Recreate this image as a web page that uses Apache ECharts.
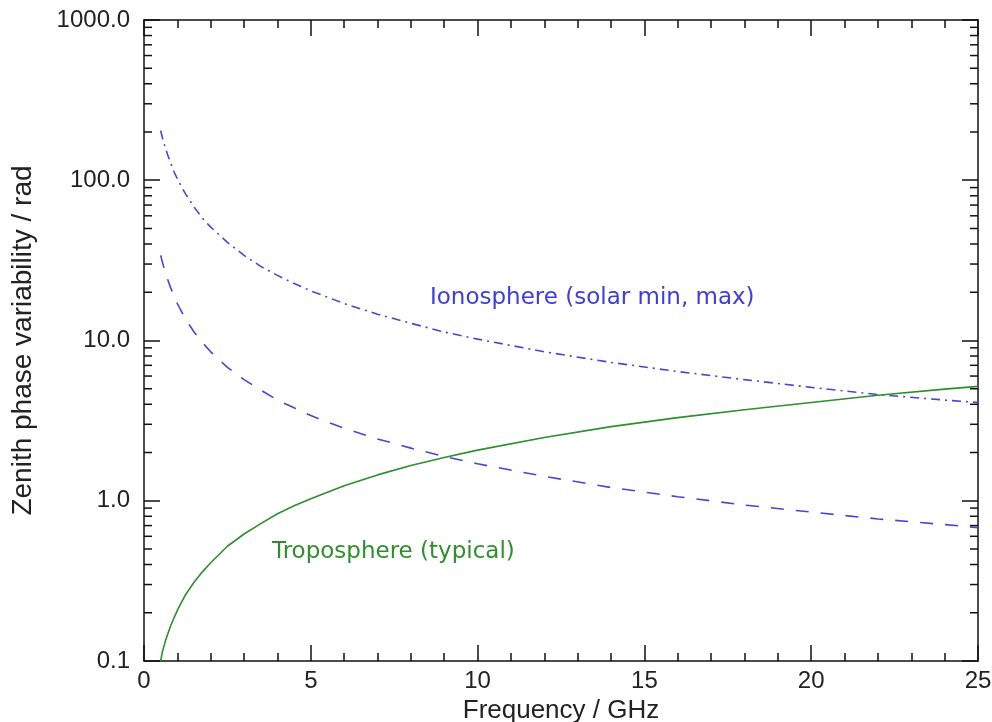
<!DOCTYPE html>
<html>
<head>
<meta charset="utf-8">
<script src="https://cdn.jsdelivr.net/npm/echarts@6/dist/echarts.min.js"></script>
<style>
  html, body { margin: 0; padding: 0; background: #fff; }
  #chart { width: 992px; height: 722px; }
</style>
</head>
<body>
<div id="chart"></div>
<script>
// frequency samples (GHz)
const freq = [0.5, 0.55, 0.6, 0.65, 0.7, 0.8, 0.9, 1, 1.1, 1.25, 1.5, 1.75, 2, 2.5, 3, 3.5, 4, 4.5, 5, 6, 7, 8, 9, 10, 12, 14, 16, 18, 20, 22, 24, 25]
// zenith phase variability (rad)
const ionoMax = [204, 185, 170, 157, 146, 128, 113, 102, 93, 82, 68, 58, 51, 41, 34, 29, 25.5, 22.7, 20.4, 17, 14.6, 12.8, 11.3, 10.2, 8.5, 7.3, 6.4, 5.7, 5.1, 4.6, 4.25, 4.1]
const ionoMin = [34, 30.9, 28.3, 26.2, 24.3, 21.3, 18.9, 17, 15.5, 13.6, 11.3, 9.7, 8.5, 6.8, 5.7, 4.9, 4.25, 3.8, 3.4, 2.83, 2.43, 2.13, 1.89, 1.7, 1.42, 1.21, 1.06, 0.94, 0.85, 0.77, 0.71, 0.68]
const tropo = [0.1, 0.114, 0.124, 0.135, 0.145, 0.166, 0.186, 0.207, 0.228, 0.26, 0.31, 0.36, 0.41, 0.52, 0.62, 0.72, 0.83, 0.93, 1.03, 1.24, 1.45, 1.66, 1.86, 2.07, 2.48, 2.9, 3.3, 3.7, 4.1, 4.55, 4.97, 5.17]
// log-axis minor tick positions
const yMinorTicks = [0.2, 0.3, 0.4, 0.5, 0.6, 0.7, 0.8, 0.9,
  2, 3, 4, 5, 6, 7, 8, 9,
  20, 30, 40, 50, 60, 70, 80, 90,
  200, 300, 400, 500, 600, 700, 800, 900]

const FONT = "'Liberation Sans', Arial, Helvetica, sans-serif"
const NOTE_FONT = "'DejaVu Sans', sans-serif"
const INK = '#222'
const BLUE = '#4646d8'
const GREEN = '#2f8f2f'

const pairs = (ys) => freq.map((x, i) => [x, ys[i]])

const chart = echarts.init(document.getElementById('chart'))

const xBase = {
  type: 'value',
  min: 0,
  max: 25,
  interval: 5,
  axisLine: { show: true, onZero: false, lineStyle: { color: '#111', width: 1.5 } },
  axisTick: { show: true, inside: true, length: 16, lineStyle: { color: '#111', width: 1.5 } },
  minorTick: { show: true, splitNumber: 5, length: 8, lineStyle: { color: '#111', width: 1.5 } },
  splitLine: { show: false },
  minorSplitLine: { show: false }
}

const yBase = {
  type: 'log',
  logBase: 10,
  min: 0.1,
  max: 1000,
  axisLine: { show: true, onZero: false, lineStyle: { color: '#111', width: 1.5 } },
  axisTick: { show: true, inside: true, length: 16, lineStyle: { color: '#111', width: 1.5 } },
  splitLine: { show: false }
}

chart.setOption({
  animation: false,
  backgroundColor: '#fff',
  textStyle: { fontFamily: FONT },
  grid: { left: 144, right: 14, top: 20, bottom: 61, containLabel: false, outerBoundsMode: 'none' },
  xAxis: [
    {
      ...xBase,
      position: 'bottom',
      name: 'Frequency / GHz',
      nameLocation: 'middle',
      nameGap: 34,
      nameTextStyle: { color: INK, fontSize: 26, fontFamily: FONT },
      axisLabel: { color: INK, fontSize: 24, fontFamily: FONT, margin: 8 }
    },
    {
      ...xBase,
      position: 'top',
      axisLabel: { show: false }
    }
  ],
  yAxis: [
    {
      ...yBase,
      position: 'left',
      name: 'Zenith phase variability / rad',
      nameLocation: 'middle',
      nameGap: 107,
      nameTextStyle: { color: INK, fontSize: 28, fontFamily: FONT },
      axisLabel: {
        color: INK, fontSize: 24, fontFamily: FONT, margin: 14,
        formatter: (v) => Number(v).toFixed(1)
      }
    },
    {
      ...yBase,
      position: 'right',
      axisLabel: { show: false }
    }
  ],
  series: [
    {
      name: 'Ionosphere (solar max)',
      type: 'line',
      data: pairs(ionoMax),
      showSymbol: false,
      lineStyle: { color: BLUE, width: 1.6, type: [9, 5, 2, 5] }
    },
    {
      name: 'Ionosphere (solar min)',
      type: 'line',
      data: pairs(ionoMin),
      showSymbol: false,
      lineStyle: { color: BLUE, width: 1.6, type: [13, 12] }
    },
    {
      name: 'Troposphere (typical)',
      type: 'line',
      data: pairs(tropo),
      showSymbol: false,
      lineStyle: { color: GREEN, width: 1.6 }
    },
    {
      // minor ticks on the log axes, left and right
      type: 'custom',
      silent: true,
      clip: false,
      data: yMinorTicks.map((v) => [0, v]),
      renderItem: (params, api) => {
        const v = api.value(1)
        const l = api.coord([0, v])
        const r = api.coord([25, v])
        const style = { stroke: '#111', lineWidth: 1.5 }
        return {
          type: 'group',
          children: [
            { type: 'line', shape: { x1: l[0], y1: l[1], x2: l[0] + 8, y2: l[1] }, style },
            { type: 'line', shape: { x1: r[0] - 8, y1: r[1], x2: r[0], y2: r[1] }, style }
          ]
        }
      }
    }
  ],
  graphic: [
    {
      type: 'text',
      left: 430,
      top: 287,
      style: { text: 'Ionosphere (solar min, max)', fill: '#3c3ce0', font: '23px ' + NOTE_FONT }
    },
    {
      type: 'text',
      left: 272,
      top: 541,
      style: { text: 'Troposphere (typical)', fill: GREEN, font: '23px ' + NOTE_FONT }
    }
  ]
})
</script>
</body>
</html>
